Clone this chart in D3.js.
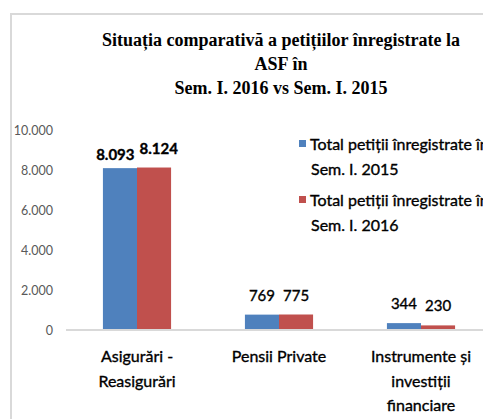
<!DOCTYPE html>
<html>
<head>
<meta charset="utf-8">
<script src="https://cdn.jsdelivr.net/npm/d3@7"></script>
<style>
  body { margin: 0; background: #fff; overflow: hidden; }
  svg { display: block; }
  .heavy { stroke: #000; stroke-width: 0.35px; }
</style>
</head>
<body>
<div id="chart"></div>
<script>
// chart data
const categories = [["Asigurări -", "Reasigurări"], ["Pensii Private"], ["Instrumente și", "investiții", "financiare"]];
const seriesNames = [["Total petiții înregistrate în", "Sem. I.  2015"], ["Total petiții înregistrate în", "Sem. I. 2016"]];
const values2015 = [8093, 769, 344];
const values2016 = [8124, 775, 230];
const yTicks = [0, 2000, 4000, 6000, 8000, 10000];
const titleLines = ["Situația comparativă a petițiilor înregistrate la", "ASF în", "Sem. I. 2016 vs Sem. I. 2015"];

const W = 483, H = 419;
const colors = ["#4F81BD", "#C0504D"];
const sansFont = "Lato, 'Open Sans', sans-serif";

const svg = d3.select("#chart").append("svg")
    .attr("width", W).attr("height", H);

// outer frame of the chart area (cut off on right/bottom)
svg.append("rect")
    .attr("x", 11).attr("y", 14)
    .attr("width", 600).attr("height", 600)
    .attr("fill", "#fff")
    .attr("stroke", "#d9d9d9").attr("stroke-width", 2);

// title
svg.append("g").selectAll("text")
    .data(titleLines)
    .enter().append("text")
    .attr("x", 281)
    .attr("y", (d, i) => 46 + i * 24)
    .attr("text-anchor", "middle")
    .style("font-family", "'Liberation Serif', 'Times New Roman', serif")
    .style("font-weight", "bold")
    .style("font-size", "18px")
    .attr("fill", "#000")
    .text(d => d);

const x0 = d3.scaleBand()
    .domain(d3.range(categories.length))
    .range([66, 492])
    .paddingInner(0.52).paddingOuter(0.26);

const x1 = d3.scaleBand()
    .domain([0, 1])
    .range([0, x0.bandwidth()]);

const y = d3.scaleLinear()
    .domain([0, 10000])
    .range([330, 130]);

const fmt = d3.formatLocale({decimal: ",", thousands: ".", grouping: [3], currency: ["", ""]}).format(",");

// y axis labels
const yAxis = svg.append("g")
    .attr("transform", "translate(66,0)")
    .call(d3.axisLeft(y).tickValues(yTicks).tickSize(0).tickPadding(13).tickFormat(fmt));
yAxis.select(".domain").remove();
yAxis.selectAll("text")
    .style("font-family", sansFont)
    .style("font-size", "12.5px")
    .attr("fill", "#595959");

const rows = categories.map((c, i) => ({i: i, vals: [values2015[i], values2016[i]]}));

const groups = svg.append("g").selectAll("g")
    .data(rows)
    .enter().append("g")
    .attr("transform", d => "translate(" + x0(d.i) + ",0)");

groups.selectAll("rect")
    .data(d => d.vals.map((v, s) => ({v: v, s: s})))
    .enter().append("rect")
    .attr("x", d => x1(d.s))
    .attr("y", d => y(d.v))
    .attr("width", x1.bandwidth())
    .attr("height", d => y(0) - y(d.v))
    .attr("fill", d => colors[d.s]);

groups.selectAll("text.val")
    .data(d => d.vals.map((v, s) => ({v: v, s: s, i: d.i})))
    .enter().append("text")
    .attr("class", "val heavy")
    .attr("x", d => x1(d.s) + x1.bandwidth() / 2)
    .attr("y", d => y(d.v) - 14)
    .attr("text-anchor", "middle")
    .style("font-family", sansFont)
    .style("font-size", "15px")
    .style("font-weight", d => d.i === 0 ? "bold" : "normal")
    .attr("fill", "#000")
    .text(d => fmt(d.v));

// push apart value labels that collide inside a group
groups.each(function() {
    const labels = d3.select(this).selectAll("text.val").nodes();
    const a = labels[0].getBBox(), b = labels[1].getBBox();
    const overlap = (a.x + a.width) - b.x + 5;
    if (overlap > 0) {
        d3.select(labels[0]).attr("dx", -overlap / 2).attr("dy", 6);
        d3.select(labels[1]).attr("dx", overlap / 2);
    }
});

// x axis line
svg.append("line")
    .attr("x1", 66).attr("x2", 492)
    .attr("y1", y(0)).attr("y2", y(0))
    .attr("stroke", "#d9d9d9").attr("stroke-width", 2);

// category labels
svg.append("g").selectAll("text")
    .data(categories)
    .enter().append("text")
    .attr("class", "heavy")
    .attr("x", (d, i) => x0(i) + x0.bandwidth() / 2)
    .attr("y", 362)
    .attr("text-anchor", "middle")
    .style("font-family", sansFont)
    .style("font-size", "16px")
    .attr("fill", "#000")
    .each(function(d) {
        d3.select(this).selectAll("tspan")
            .data(d)
            .enter().append("tspan")
            .attr("x", d3.select(this).attr("x"))
            .attr("dy", (t, j) => j === 0 ? 0 : 24.5)
            .text(t => t);
    });

// legend
const legend = svg.append("g").selectAll("g")
    .data(seriesNames)
    .enter().append("g")
    .attr("transform", (d, i) => "translate(299," + (144 + i * 56) + ")");

legend.append("rect")
    .attr("x", 0).attr("y", -4)
    .attr("width", 7).attr("height", 7)
    .attr("fill", (d, i) => colors[i]);

legend.append("text")
    .attr("class", "heavy")
    .style("font-family", sansFont)
    .style("font-size", "16px")
    .attr("fill", "#000")
    .each(function(d) {
        d3.select(this).selectAll("tspan")
            .data(d)
            .enter().append("tspan")
            .attr("x", (t, j) => j === 0 ? 11 : 12)
            .attr("y", (t, j) => 5.5 + j * 25)
            .text(t => t);
    });
</script>
</body>
</html>
